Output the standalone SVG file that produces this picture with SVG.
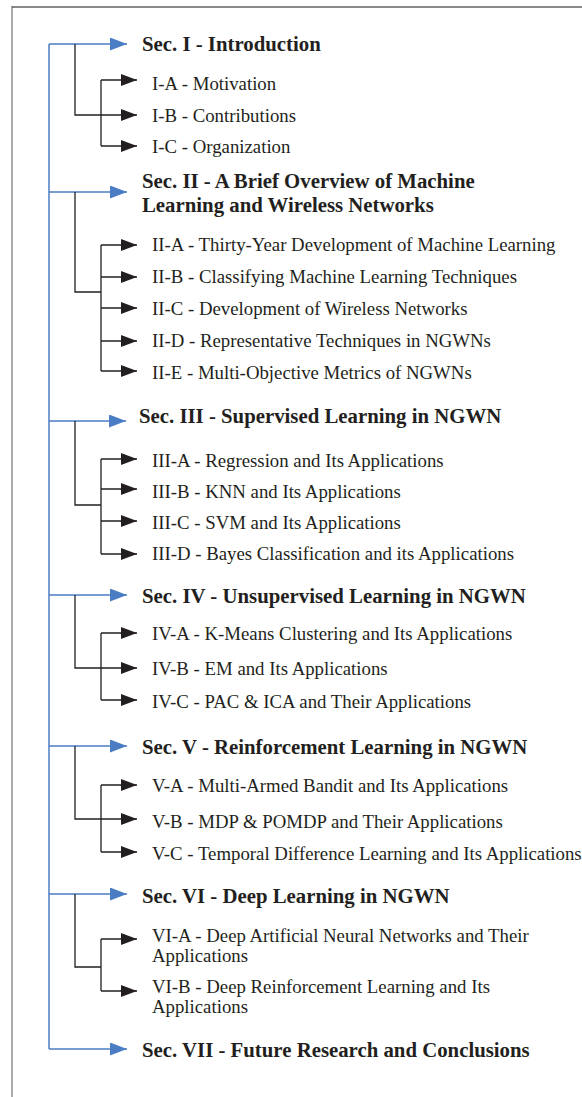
<svg xmlns="http://www.w3.org/2000/svg" width="582" height="1097" viewBox="0 0 582 1097">
<style>
.sec{font-family:"Liberation Serif","Times New Roman",serif;font-weight:bold;font-size:20.8px;fill:#231f20}
.sub{font-family:"Liberation Serif","Times New Roman",serif;font-size:18.8px;fill:#231f20}
.blk{fill:none;stroke:#231f20;stroke-width:1.3}
.blu{fill:none;stroke:#4a7dc4;stroke-width:1.5}
.ba{fill:none;stroke:#231f20;stroke-width:1.3;marker-end:url(#ah)}
.bl{fill:none;stroke:#4a7dc4;stroke-width:1.5;marker-end:url(#bh)}
</style>
<defs>
<marker id="ah" markerUnits="userSpaceOnUse" markerWidth="16" markerHeight="12" refX="16" refY="6" orient="auto"><path d="M0,0 L16,6 L0,12 z" fill="#231f20"/></marker>
<marker id="bh" markerUnits="userSpaceOnUse" markerWidth="17" markerHeight="13" refX="17" refY="6.5" orient="auto"><path d="M0,0 L17,6.5 L0,13 z" fill="#4a7dc4"/></marker>
</defs>
<rect width="582" height="1097" fill="#ffffff"/>
<g id="frame">
<line x1="12" y1="7" x2="582" y2="7" stroke="#8a8a8a" stroke-width="2"/>
<line x1="12" y1="6" x2="12" y2="1097" stroke="#555555" stroke-width="1"/>
</g>
<g id="connectors">
<path class="blu" d="M49,44 V1049"/>
<path class="bl" d="M49,44 H127"/>
<path class="bl" d="M49,192 H127"/>
<path class="bl" d="M49,421 H126"/>
<path class="bl" d="M49,595 H127"/>
<path class="bl" d="M49,746 H127"/>
<path class="bl" d="M49,894 H127"/>
<path class="bl" d="M49,1049 H127"/>
<path class="blk" d="M75,44 V115 H101 M101,80 V146"/>
<path class="ba" d="M101,80 H137"/>
<path class="ba" d="M101,115 H137"/>
<path class="ba" d="M101,146 H137"/>
<path class="blk" d="M75,192 V292 H101 M101,245 V371"/>
<path class="ba" d="M101,245 H137"/>
<path class="ba" d="M101,277 H137"/>
<path class="ba" d="M101,308 H137"/>
<path class="ba" d="M101,341 H137"/>
<path class="ba" d="M101,371 H137"/>
<path class="blk" d="M75,421 V505 H101 M101,459 V554"/>
<path class="ba" d="M101,459 H137"/>
<path class="ba" d="M101,489 H137"/>
<path class="ba" d="M101,521 H137"/>
<path class="ba" d="M101,554 H137"/>
<path class="blk" d="M75,595 V668 H101 M101,633 V700"/>
<path class="ba" d="M101,633 H137"/>
<path class="ba" d="M101,668 H137"/>
<path class="ba" d="M101,700 H137"/>
<path class="blk" d="M75,746 V819 H101 M101,785 V852"/>
<path class="ba" d="M101,785 H137"/>
<path class="ba" d="M101,819 H137"/>
<path class="ba" d="M101,852 H137"/>
<path class="blk" d="M75,894 V967 H101 M101,939 V991"/>
<path class="ba" d="M101,939 H137"/>
<path class="ba" d="M101,991 H137"/>
</g>
<g id="sec1"><text class="sec" x="142" y="50.5">Sec. I - Introduction</text></g>
<g id="sec1a"><text class="sub" x="152" y="90">I-A - Motivation</text></g>
<g id="sec1b"><text class="sub" x="152" y="121.5">I-B - Contributions</text></g>
<g id="sec1c"><text class="sub" x="152" y="153">I-C - Organization</text></g>
<g id="sec2"><text class="sec" x="142" y="188">Sec. II - A Brief Overview of Machine</text><text class="sec" x="142" y="211.5">Learning and Wireless Networks</text></g>
<g id="sec2a"><text class="sub" x="152" y="251">II-A - Thirty-Year Development of Machine Learning</text></g>
<g id="sec2b"><text class="sub" x="152" y="282.5">II-B - Classifying Machine Learning Techniques</text></g>
<g id="sec2c"><text class="sub" x="152" y="315">II-C - Development of Wireless Networks</text></g>
<g id="sec2d"><text class="sub" x="152" y="347">II-D - Representative Techniques in NGWNs</text></g>
<g id="sec2e"><text class="sub" x="152" y="379">II-E - Multi-Objective Metrics of NGWNs</text></g>
<g id="sec3"><text class="sec" x="139" y="423.3">Sec. III - Supervised Learning in NGWN</text></g>
<g id="sec3a"><text class="sub" x="152" y="467">III-A - Regression and Its Applications</text></g>
<g id="sec3b"><text class="sub" x="152" y="497.5">III-B - KNN and Its Applications</text></g>
<g id="sec3c"><text class="sub" x="152" y="529">III-C - SVM and Its Applications</text></g>
<g id="sec3d"><text class="sub" x="152" y="560">III-D - Bayes Classification and its Applications</text></g>
<g id="sec4"><text class="sec" x="142" y="603.3">Sec. IV - Unsupervised Learning in NGWN</text></g>
<g id="sec4a"><text class="sub" x="152" y="640">IV-A - K-Means Clustering and Its Applications</text></g>
<g id="sec4b"><text class="sub" x="152" y="675">IV-B - EM and Its Applications</text></g>
<g id="sec4c"><text class="sub" x="152" y="707.5">IV-C - PAC &amp; ICA and Their Applications</text></g>
<g id="sec5"><text class="sec" x="142" y="754">Sec. V - Reinforcement Learning in NGWN</text></g>
<g id="sec5a"><text class="sub" x="152" y="791.7">V-A - Multi-Armed Bandit and Its Applications</text></g>
<g id="sec5b"><text class="sub" x="152" y="828">V-B - MDP &amp; POMDP and Their Applications</text></g>
<g id="sec5c"><text class="sub" x="152" y="860">V-C - Temporal Difference Learning and Its Applications</text></g>
<g id="sec6"><text class="sec" x="142" y="902.5">Sec. VI - Deep Learning in NGWN</text></g>
<g id="sec6a"><text class="sub" x="152" y="941.7">VI-A - Deep Artificial Neural Networks and Their</text><text class="sub" x="152" y="961.7">Applications</text></g>
<g id="sec6b"><text class="sub" x="152" y="992.7">VI-B - Deep Reinforcement Learning and Its</text><text class="sub" x="152" y="1013">Applications</text></g>
<g id="sec7"><text class="sec" x="142" y="1056.7">Sec. VII - Future Research and Conclusions</text></g>
</svg>
